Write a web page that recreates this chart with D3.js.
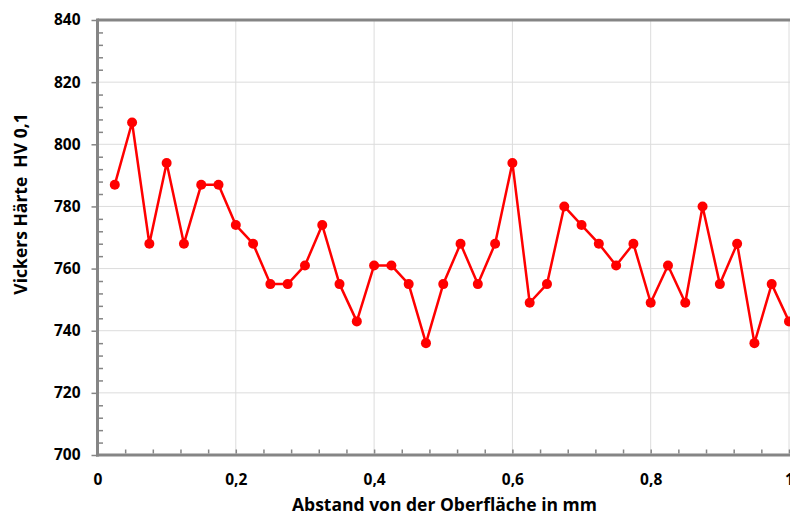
<!DOCTYPE html>
<html>
<head>
<meta charset="utf-8">
<script src="https://cdn.jsdelivr.net/npm/d3@7"></script>
<style>
  html, body { margin: 0; padding: 0; background: #fff; }
  svg { display: block; }
  .lbl { font-family: "Open Sans", sans-serif; font-weight: bold; fill: #000; white-space: pre; }
</style>
</head>
<body>
<div id="chart"></div>
<script>
// Abstand von der Oberfläche (mm) und Härtewerte
const depths = [0.025, 0.05, 0.075, 0.1, 0.125, 0.15, 0.175, 0.2, 0.225, 0.25,
    0.275, 0.3, 0.325, 0.35, 0.375, 0.4, 0.425, 0.45, 0.475, 0.5,
    0.525, 0.55, 0.575, 0.6, 0.625, 0.65, 0.675, 0.7, 0.725, 0.75,
    0.775, 0.8, 0.825, 0.85, 0.875, 0.9, 0.925, 0.95, 0.975, 1.0];
const hardness = [787, 807, 768, 794, 768, 787, 787, 774, 768, 755,
    755, 761, 774, 755, 743, 761, 761, 755, 736, 755,
    768, 755, 768, 794, 749, 755, 780, 774, 768, 761,
    768, 749, 761, 749, 780, 755, 768, 736, 755, 743];

const xTicks = [0, 0.2, 0.4, 0.6, 0.8, 1];
const yTicks = [700, 720, 740, 760, 780, 800, 820, 840];

const xTitle = 'Abstand von der Oberfläche in mm';
const yTitle = 'Vickers Härte  HV 0,1';

const W = 790, H = 513;
const margin = { top: 20, left: 97.5, right: 1, bottom: 58 };
const width = W - margin.left - margin.right;
const height = H - margin.top - margin.bottom;

const svg = d3.select('#chart').append('svg')
    .attr('width', W)
    .attr('height', H);

const g = svg.append('g')
    .attr('transform', `translate(${margin.left},${margin.top})`);

const x = d3.scaleLinear().domain([0, 1]).range([0, width]);
const y = d3.scaleLinear().domain([700, 840]).range([height, 0]);

const gridColor = '#dcdcdc';
const axisColor = '#858585';

// gridlines
g.append('g')
    .selectAll('line')
    .data(yTicks.filter(v => v > 700 && v < 840))
    .join('line')
    .attr('x1', 0).attr('x2', width + 1)
    .attr('y1', d => y(d)).attr('y2', d => y(d))
    .attr('stroke', gridColor).attr('stroke-width', 1);

g.append('g')
    .selectAll('line')
    .data(xTicks.filter(v => v > 0))
    .join('line')
    .attr('x1', d => x(d)).attr('x2', d => x(d))
    .attr('y1', 0).attr('y2', height)
    .attr('stroke', gridColor).attr('stroke-width', 1);

// top border
g.append('line')
    .attr('x1', 0).attr('x2', width + 2)
    .attr('y1', 0).attr('y2', 0)
    .attr('stroke', axisColor).attr('stroke-width', 3);

// minor ticks
const yMinor = d3.range(704, 840, 4).filter(v => (v - 700) % 20 !== 0);
const xMinor = d3.range(1, 25).map(i => i * 0.04).filter(v => Math.abs(v * 5 - Math.round(v * 5)) > 1e-6);

g.append('g')
    .attr('transform', 'translate(1.5,0)')
    .call(d3.axisRight(y).tickValues(yMinor).tickSize(4).tickFormat(''))
    .call(a => a.select('.domain').remove())
    .call(a => a.selectAll('line').attr('stroke', axisColor).attr('stroke-width', 1.5));

g.append('g')
    .attr('transform', `translate(0,${height - 1.5})`)
    .call(d3.axisTop(x).tickValues(xMinor.concat(xTicks.filter(v => v > 0))).tickSize(4).tickFormat(''))
    .call(a => a.select('.domain').remove())
    .call(a => a.selectAll('line').attr('stroke', axisColor).attr('stroke-width', 1.5));

// y axis
g.append('g')
    .call(d3.axisLeft(y).tickValues(yTicks).tickSize(6).tickPadding(11).tickFormat(d3.format('d')))
    .call(a => a.select('.domain').remove())
    .call(a => a.selectAll('line').attr('stroke', axisColor).attr('stroke-width', 1.5))
    .call(a => a.selectAll('text').attr('class', 'lbl').style('font-size', '15.5px'));

g.append('line')
    .attr('x1', 0).attr('x2', 0)
    .attr('y1', -1.5).attr('y2', height + 1.5)
    .attr('stroke', axisColor).attr('stroke-width', 3);

// x axis
const fmtX = d => d3.format('.1f')(d).replace('.', ',').replace(/^0,0$/, '0').replace(/^1,0$/, '1');
g.append('g')
    .attr('transform', `translate(0,${height})`)
    .call(d3.axisBottom(x).tickValues(xTicks).tickSize(0).tickPadding(19).tickFormat(fmtX))
    .call(a => a.select('.domain').remove())
    .call(a => a.selectAll('text').attr('class', 'lbl').style('font-size', '15.5px'));

g.append('line')
    .attr('x1', -1.5).attr('x2', width + 2)
    .attr('y1', height).attr('y2', height)
    .attr('stroke', axisColor).attr('stroke-width', 3);

// series
const pts = depths.map((d, i) => ({ x: d, v: hardness[i] }));
const line = d3.line().x(d => x(d.x)).y(d => y(d.v));

g.append('path')
    .datum(pts)
    .attr('fill', 'none')
    .attr('stroke', '#ff0000')
    .attr('stroke-width', 2.5)
    .attr('stroke-linejoin', 'round')
    .attr('d', line);

g.append('g')
    .selectAll('circle')
    .data(pts)
    .join('circle')
    .attr('cx', d => x(d.x))
    .attr('cy', d => y(d.v))
    .attr('r', 5)
    .attr('fill', '#ff0000');

// axis titles
svg.append('text')
    .attr('class', 'lbl')
    .attr('x', 444.5)
    .attr('y', 511)
    .attr('text-anchor', 'middle')
    .style('font-size', '17.5px')
    .text(xTitle);

svg.append('text')
    .attr('class', 'lbl')
    .attr('transform', 'translate(27,204) rotate(-90)')
    .attr('text-anchor', 'middle')
    .style('font-size', '17.5px')
    .text(yTitle);
</script>
</body>
</html>
